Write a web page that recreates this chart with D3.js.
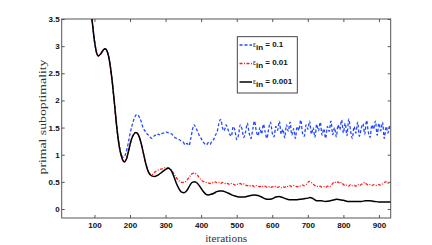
<!DOCTYPE html>
<html><head><meta charset="utf-8">
<script src="https://cdn.jsdelivr.net/npm/d3@7"></script>
<style>html,body{margin:0;padding:0;background:#fff;}svg{display:block;}</style>
</head><body>
<svg id="c" width="432" height="245"></svg>
<script>
// ---------- data ----------
const xTicks = [100,200,300,400,500,600,700,800,900];
const yTicks = [0,0.5,1,1.5,2,2.5,3,3.5];
const yTickLabels = ["0","0.5","1","1.5","2","2.5","3","3.5"];
const seriesNames = ["0.1","0.01","0.001"];

// shared start (all three runs coincide)
const headIter = [88,93,100,106,111,118,125,130,136,143,150,157,163,170];
const headVal  = [3.75,3.5,3.1,2.88,2.82,2.86,2.93,2.95,2.90,2.70,2.35,1.90,1.50,1.15];

// eps = 0.001 (black)
const blackIter = [177,184,190,197,204,211,217,224,231,238,245,252,261,270,280,290,300,307,315,322,330,338,345,352,360,368,375,382,390,398,405,412,420,428,436,444,452,460,470,480,490,500,510,518,528,540,551,560,570,580,589,600,610,619,630,642,654,665,678,690,700,706,715,725,738,750,762,775,781,790,800,812,825,838,850,862,875,888,900,912,925,933];
const blackVal  = [0.95,0.87,0.92,1.10,1.28,1.38,1.41,1.36,1.22,1.02,0.82,0.68,0.61,0.60,0.63,0.68,0.73,0.75,0.72,0.62,0.48,0.37,0.31,0.30,0.34,0.43,0.49,0.50,0.47,0.40,0.33,0.28,0.26,0.27,0.29,0.32,0.33,0.33,0.31,0.28,0.25,0.23,0.22,0.22,0.23,0.25,0.26,0.25,0.22,0.19,0.18,0.19,0.22,0.23,0.21,0.18,0.17,0.17,0.18,0.19,0.20,0.21,0.19,0.15,0.15,0.14,0.15,0.17,0.18,0.17,0.16,0.14,0.14,0.14,0.14,0.15,0.15,0.14,0.13,0.13,0.13,0.13];

// eps = 0.01 (red)
const redIter = [177,184,190,197,204,211,217,224,231,238,245,252,261,270,280,290,300,307,315,322,330,338,345,352,360,368,375,382,390,398,405,412];
const redVal  = [0.95,0.87,0.92,1.10,1.28,1.38,1.41,1.36,1.22,1.02,0.82,0.68,0.63,0.68,0.72,0.74,0.76,0.76,0.73,0.66,0.58,0.52,0.49,0.49,0.53,0.60,0.65,0.66,0.62,0.55,0.51,0.49];
const redNoise = [0.49,0.48,0.47,0.49,0.48,0.50,0.48,0.49,0.47,0.49,0.48,0.46,0.47,0.45,0.47,0.46,0.44,0.46,0.45,0.47,0.45,0.46,0.44,0.43,0.44,0.42,0.43,0.41,0.43,0.42,0.41,0.43,0.41,0.42,0.40,0.41,0.39,0.41,0.40,0.42,0.40,0.41,0.39,0.41,0.40,0.42,0.41,0.43,0.41,0.43,0.42,0.41,0.43,0.42,0.44,0.43,0.45,0.49,0.51,0.49,0.46,0.43,0.42,0.41,0.42,0.40,0.41,0.40,0.42,0.41,0.43,0.47,0.50,0.48,0.50,0.47,0.49,0.45,0.43,0.44,0.42,0.45,0.43,0.44,0.42,0.45,0.43,0.45,0.47,0.49,0.46,0.44,0.45,0.43,0.45,0.44,0.43,0.45,0.44,0.46,0.49,0.50,0.47,0.49];
const redNoiseStart = 415;

// eps = 0.1 (blue)
const blueIter = [177,182,188,195,200,205,210,214,219,223,227,231,237,242,247,252,256,261,265,270,275,280,285,290,295,300,305,310,317,324,331,338,345,350,355,360,366,371,376,380,385,390];
const blueVal  = [0.98,0.95,1.02,1.21,1.38,1.52,1.63,1.70,1.74,1.73,1.68,1.62,1.49,1.44,1.39,1.36,1.33,1.30,1.32,1.36,1.35,1.38,1.36,1.39,1.40,1.42,1.41,1.40,1.38,1.33,1.30,1.28,1.25,1.23,1.18,1.21,1.17,1.30,1.47,1.55,1.50,1.43];
const blueNoise = [1.35,1.30,1.24,1.20,1.18,1.22,1.19,1.25,1.28,1.36,1.42,1.58,1.65,1.50,1.44,1.55,1.48,1.38,1.34,1.52,1.45,1.28,1.36,1.55,1.47,1.32,1.42,1.58,1.40,1.30,1.46,1.62,1.44,1.35,1.50,1.38,1.56,1.42,1.30,1.48,1.60,1.40,1.33,1.52,1.45,1.62,1.38,1.47,1.31,1.55,1.43,1.60,1.36,1.48,1.30,1.52,1.45,1.64,1.40,1.34,1.55,1.47,1.62,1.38,1.50,1.32,1.56,1.44,1.60,1.36,1.48,1.30,1.52,1.43,1.62,1.37,1.50,1.33,1.55,1.46,1.64,1.40,1.58,1.35,1.66,1.45,1.30,1.52,1.40,1.60,1.34,1.48,1.57,1.38,1.63,1.42,1.32,1.55,1.47,1.62,1.36,1.58,1.44,1.60,1.30,1.52,1.40,1.55];
const blueNoiseStart = 395;
const noiseStep = 5;

// ---------- build point lists ----------
function pts(iters, vals){ return iters.map((t,i)=>({x:t,y:vals[i]})); }
function noisePts(start, vals){ return vals.map((v,i)=>({x:start+i*noiseStep,y:v})); }
const head = pts(headIter, headVal);
const blackData = head.concat(pts(blackIter, blackVal));
const redData = head.concat(pts(redIter, redVal), noisePts(redNoiseStart, redNoise));
const blueData = head.concat(pts(blueIter, blueVal), noisePts(blueNoiseStart, blueNoise));

// ---------- drawing ----------
const svg = d3.select("#c");
const L=61.7, R=390.7, T=19, B=218;
const x = d3.scaleLinear().domain([8,933]).range([L,R]);
const y = d3.scaleLinear().domain([-0.166,3.5]).range([B,T]);
const axisCol = "#555";

svg.append("defs").append("clipPath").attr("id","clip")
  .append("rect").attr("x",L).attr("y",T).attr("width",R-L).attr("height",B-T);

// frame
svg.append("rect").attr("x",L).attr("y",T).attr("width",R-L).attr("height",B-T)
  .attr("fill","#fff").attr("stroke",axisCol).attr("stroke-width",1);

// axes (inward ticks)
const tickFont = "bold 8px 'Liberation Sans', Arial, sans-serif";
const xb = svg.append("g").attr("transform",`translate(0,${B})`)
  .call(d3.axisBottom(x).tickValues(xTicks).tickSize(-3).tickPadding(4).tickFormat(d3.format("d")));
const xt = svg.append("g").attr("transform",`translate(0,${T})`)
  .call(d3.axisTop(x).tickValues(xTicks).tickSize(-3).tickFormat(""));
const yl = svg.append("g").attr("transform",`translate(${L},0)`)
  .call(d3.axisLeft(y).tickValues(yTicks).tickSize(-3).tickPadding(2).tickFormat((d,i)=>yTickLabels[i]));
const yr = svg.append("g").attr("transform",`translate(${R},0)`)
  .call(d3.axisRight(y).tickValues(yTicks).tickSize(-3).tickFormat(""));
[xb,xt,yl,yr].forEach(g=>{
  g.select(".domain").remove();
  g.selectAll(".tick line").attr("stroke",axisCol);
  g.selectAll(".tick text").style("font",tickFont).attr("fill","#111");
});

// lines
const line = d3.line().x(d=>x(d.x)).y(d=>y(d.y)).curve(d3.curveMonotoneX);
const plot = svg.append("g").attr("clip-path","url(#clip)");
plot.append("path").datum(blueData).attr("d",line).attr("fill","none")
  .attr("stroke","#2448ff").attr("stroke-width",1.3).attr("stroke-dasharray","3,2");
plot.append("path").datum(redData).attr("d",line).attr("fill","none")
  .attr("stroke","#ff1a1a").attr("stroke-width",1.3).attr("stroke-dasharray","3,1.5,1,1.5");
plot.append("path").datum(blackData).attr("d",line).attr("fill","none")
  .attr("stroke","#000").attr("stroke-width",1.5);

// axis labels
const serif = "'Liberation Serif','DejaVu Serif',serif";
svg.append("text").attr("x",(L+R)/2).attr("y",241.5).attr("text-anchor","middle")
  .attr("font-family",serif).attr("font-size",11).attr("fill","#333")
  .attr("textLength",42).attr("lengthAdjust","spacingAndGlyphs").text("iterations");
svg.append("text").attr("transform",`translate(46,117) rotate(-90)`).attr("text-anchor","middle")
  .attr("font-family",serif).attr("font-size",11).attr("fill","#333")
  .attr("textLength",115).attr("lengthAdjust","spacingAndGlyphs").text("primal suboptimality");

// legend
const lg = svg.append("g");
lg.append("rect").attr("x",237.3).attr("y",36.7).attr("width",60).attr("height",56.3)
  .attr("fill","#fff").attr("stroke","#333").attr("stroke-width",0.9);
const legStyles = [
  {c:"#2448ff", dash:"3,2", w:1.3},
  {c:"#ff1a1a", dash:"3,1.5,1,1.5", w:1.3},
  {c:"#000", dash:null, w:1.5}
];
const rowY = [45, 63.5, 82];
seriesNames.forEach((nm,i)=>{
  const yy = rowY[i];
  const ln = lg.append("line").attr("x1",239.5).attr("x2",252).attr("y1",yy).attr("y2",yy)
    .attr("stroke",legStyles[i].c).attr("stroke-width",legStyles[i].w);
  if(legStyles[i].dash) ln.attr("stroke-dasharray",legStyles[i].dash);
  const t = lg.append("text").attr("x",253).attr("y",yy+1.5)
    .attr("font-family","'Liberation Sans', Arial, sans-serif").attr("fill","#111");
  t.append("tspan").attr("font-size",6.5).text("ε");
  t.append("tspan").attr("font-size",8).attr("font-weight","bold").attr("dy",3).text("in");
  t.append("tspan").attr("font-size",8).attr("font-weight","bold").attr("dy",-3).text(" = " + nm);
});
</script>
</body></html>
